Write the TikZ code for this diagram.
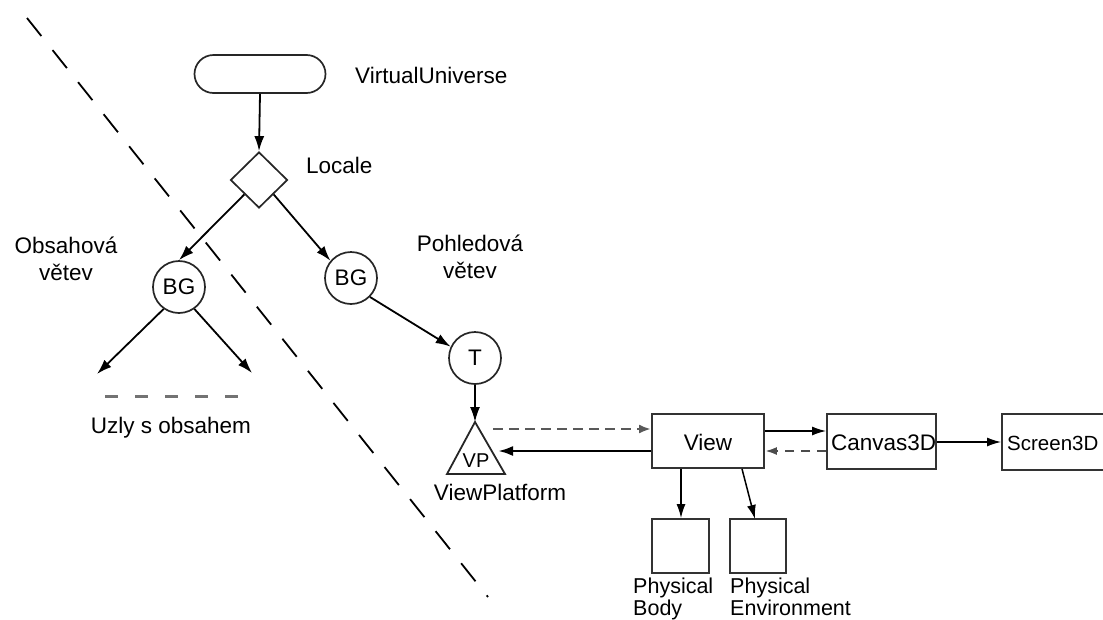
\documentclass[tikz,border=0pt]{standalone}
\usepackage{fontspec}
\setmainfont{Liberation Sans}
\usetikzlibrary{shapes.geometric,arrows.meta}
\tikzset{
  lbl/.style={inner sep=0pt, font=\fontsize{22.5}{27}\selectfont},
  circ/.style={circle, draw=black!85, line width=1.7pt, minimum size=52pt, inner sep=0pt, font=\fontsize{22.5}{24}\selectfont},
  boxn/.style={draw=black!80, line width=1.8pt, inner sep=0pt},
  boxt/.style={inner sep=0pt, font=\fontsize{22.5}{24}\selectfont},
  arr/.style={line width=1.8pt, -{Latex[length=15pt,width=10pt]}},
  dasharr/.style={line width=2.8pt, draw=black!65, dash pattern=on 10pt off 6pt, -{Latex[length=12pt,width=9pt]}},
  thinarr/.style={line width=1.5pt, -{Latex[length=14pt,width=9pt]}},
}
\begin{document}
\begin{tikzpicture}[x=1pt,y=-1pt]
\useasboundingbox (0,0) rectangle (1103,619);
\begin{scope}
\clip (0,0) rectangle (1103,619);
% diagonal separator
\coordinate (d1) at (27,18);
\coordinate (d2) at (488,597);
\draw[line width=1.8pt, dash pattern=on 23pt off 18pt] (d1) -- (d2);

% VirtualUniverse
\node[draw=black!85, line width=1.7pt, rounded corners=19pt, minimum width=131pt, minimum height=38pt, inner sep=0pt] (vu) at (260,74) {};
\node[lbl, anchor=base west] (vul) at (355,83) {VirtualUniverse};

% Locale
\node[diamond, draw=black!85, line width=1.7pt, minimum width=57pt, minimum height=56pt, inner sep=0pt] (loc) at (259,180) {};
\node[lbl, anchor=base west] (locl) at (306,173) {Locale};
\draw[arr] (vu.south) -- (loc.north);

% branches
\node[circ] (bgl) at (179,287) {BG};
\node[circ] (bgr) at (351,278) {BG};
\draw[arr] (loc.south west) -- (bgl.north);
\draw[arr] (loc.south east) -- (bgr.140);

\node[lbl, align=center, anchor=base] (obs) at (66,280) {Obsahová\\větev};
\node[lbl, align=center, anchor=base] (poh) at (470,278) {Pohledová\\větev};

% content children
\coordinate (c1) at (97,374);
\coordinate (c2) at (252,373);
\draw[arr] (bgl.235) -- (c1);
\draw[arr] (bgl.305) -- (c2);
\coordinate (u1) at (107,396);
\coordinate (u2) at (242,396);
\draw[line width=3pt, draw=black!55, dash pattern=on 13pt off 17pt] ([xshift=-2pt]u1) -- (u2);
\node[lbl, anchor=base] (uz) at (171,433) {Uzly s obsahem};

% T
\node[circ] (t) at (475,358) {T};
\draw[arr] (bgr.-45) -- (t.155);

% ViewPlatform triangle
\coordinate (vpa) at (475,422);
\coordinate (vpl) at (447,474);
\coordinate (vpr) at (505,474);
\draw[line width=1.8pt, draw=black!85, line join=miter] (vpa) -- (vpl) -- (vpr) -- cycle;
\node[inner sep=0pt, font=\fontsize{20}{24}\selectfont, anchor=base] (vp) at (476,467) {VP};
\node[lbl, anchor=base] (vpn) at (500,500) {ViewPlatform};
\draw[arr] (t.south) -- (vpa);

% View
\node[boxn, minimum width=112pt, minimum height=54pt] (view) at (708,441) {};
\node[boxt, anchor=base] (viewl) at (708,450) {View};
\coordinate (vpo1) at (493,429);
\coordinate (vpo2) at (498,451);
\draw[dasharr] (vpo1) -- (vpo1 -| view.west);
\draw[line width=2.6pt, -{Latex[length=15pt,width=10pt]}] (vpo2 -| view.west) -- (vpo2);

% Canvas3D, Screen3D
\node[boxn, minimum width=109pt, minimum height=55pt] (can) at (881.5,441.5) {};
\node[boxt, anchor=base west] (canl) at (831,450) {Canvas3D};
\node[boxn, minimum width=118pt, minimum height=56pt] (scr) at (1061,442) {};
\node[inner sep=0pt, font=\fontsize{20.5}{24}\selectfont, anchor=base west] (scrl) at (1007,450) {Screen3D};

\coordinate (y1) at (0,431);
\coordinate (y2) at (0,451);
\coordinate (y3) at (0,442);
\draw[thinarr] (view.east |- y1) -- (can.west |- y1);
\draw[line width=2.2pt, draw=black!70, dash pattern=on 9pt off 7pt, -{Latex[length=12pt,width=8pt]}] (can.west |- y2) -- (view.east |- y2);
\draw[thinarr] (can.east |- y3) -- (scr.west |- y3);

% Physical boxes
\node[boxn, minimum width=57pt, minimum height=54pt] (pb) at (680.5,546) {};
\node[boxn, minimum width=56pt, minimum height=54pt] (pe) at (758,546) {};
\coordinate (vb1) at (681,0);
\coordinate (vb2) at (742,0);
\draw[thinarr] (view.south -| vb1) -- (pb.north -| vb1);
\draw[thinarr] (view.south -| vb2) -- (755,519);
\node[inner sep=0pt, font=\fontsize{21.5}{18}\selectfont, align=left, anchor=base west] (pbl) at (633,615) {Physical\\Body};
\node[inner sep=0pt, font=\fontsize{21.5}{18}\selectfont, align=left, anchor=base west] (pel) at (730,615) {Physical\\Environment};
\end{scope}
\end{tikzpicture}
\end{document}
